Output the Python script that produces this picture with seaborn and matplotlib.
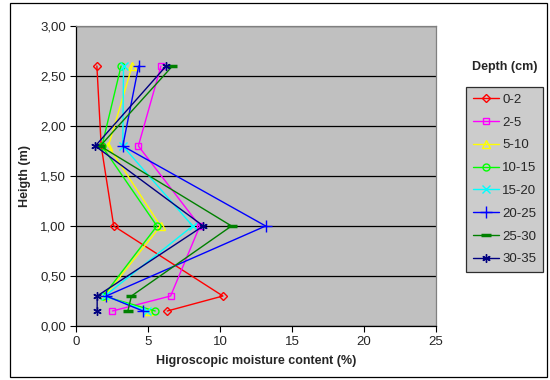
import matplotlib
matplotlib.use("Agg")
import matplotlib.pyplot as plt
import seaborn as sns
import pandas as pd
from matplotlib.ticker import FuncFormatter, MultipleLocator
from matplotlib.patches import Rectangle

heights = [2.6, 1.8, 1.0, 0.3, 0.15]
depths = ["0-2", "2-5", "5-10", "10-15", "15-20", "20-25", "25-30", "30-35"]
d0_2 = [1.45, 1.75, 2.62, 10.2, 6.34]
d2_5 = [5.9, 4.33, 8.6, 6.57, 2.53]
d5_10 = [3.9, 2.25, 5.87, 2.0, 5.1]
d10_15 = [3.13, 1.8, 5.62, 1.9, 5.5]
d15_20 = [3.3, 3.25, 8.1, 2.0, 4.93]
d20_25 = [4.35, 3.25, 13.17, 2.1, 4.65]
d25_30 = [6.7, 1.68, 10.8, 3.85, 3.6]
d30_35 = [6.26, 1.34, 8.84, 1.47, 1.47]
series = [d0_2, d2_5, d5_10, d10_15, d15_20, d20_25, d25_30, d30_35]

colors = ["#FF0000", "#FF00FF", "#FFFF00", "#00FF00", "#00FFFF", "#0000FF", "#008000", "#000080"]
markers = ["D", "s", "^", "o", "x", "+", "_", (6, 2, 0)]
sizes = [4.5, 5, 6, 5, 6, 8, 7, 6]
mews = [1.0, 1.0, 1.0, 1.0, 1.0, 1.0, 2.5, 1.0]
open_m = [True, True, True, True, False, False, False, False]

sns.set_style("white")
plt.rcParams["font.family"] = ["Liberation Sans", "DejaVu Sans"]
plt.rcParams["font.size"] = 9

fig = plt.figure(figsize=(5.5, 3.8), dpi=100)
ax = fig.add_axes([76 / 550, 54 / 380, 360 / 550, 300 / 380])
ax.set_facecolor("#C0C0C0")

for name, vals, c, m, s, mw, op in zip(depths, series, colors, markers, sizes, mews, open_m):
    df = pd.DataFrame({"moist": vals, "h": heights})
    kw = dict(markerfacecolor="none") if op else dict(markerfacecolor=c)
    sns.lineplot(data=df, x="moist", y="h", sort=False, estimator=None, ax=ax,
                 color=c, marker=m, markersize=s, markeredgecolor=c,
                 markeredgewidth=mw, linewidth=1.0, label=name, **kw)

ax.set_xlim(0, 25)
ax.set_ylim(0, 3)
ax.xaxis.set_major_locator(MultipleLocator(5))
ax.yaxis.set_major_locator(MultipleLocator(0.5))
ax.yaxis.set_major_formatter(FuncFormatter(lambda v, p: f"{v:.2f}".replace(".", ",")))
ax.yaxis.grid(True, color="black", linewidth=0.9)
ax.xaxis.grid(False)
ax.set_axisbelow(True)
ax.tick_params(axis="both", direction="out", length=4, width=0.8, color="black",
               labelsize=9.5, pad=3, left=True, bottom=True)
for sp in ["left", "bottom"]:
    ax.spines[sp].set_color("black")
    ax.spines[sp].set_linewidth(0.9)
for sp in ["top", "right"]:
    ax.spines[sp].set_color("#808080")
    ax.spines[sp].set_linewidth(0.9)

ax.set_xlabel("Higroscopic moisture content (%)", fontsize=9, fontweight="bold", labelpad=5)
ax.set_ylabel("Heigth (m)", fontsize=9, fontweight="bold", labelpad=7)

handles, labels = ax.get_legend_handles_labels()
ax.get_legend().remove()
leg = fig.legend(handles, labels, loc="upper left",
                 bbox_to_anchor=(466 / 550, 1 - 87 / 380), bbox_transform=fig.transFigure,
                 frameon=True, fancybox=False, facecolor="#C0C0C0", edgecolor="black",
                 fontsize=9.5, handlelength=2.0, handletextpad=0.25, labelspacing=0.8,
                 borderpad=0.5, borderaxespad=0)
leg.get_frame().set_linewidth(0.9)

fig.text(505 / 550, 1 - 67 / 380, "Depth (cm)", ha="center", va="center",
         fontsize=9, fontweight="bold")

fig.patches.append(Rectangle((10 / 550, 3 / 380), 537 / 550, 374 / 380,
                             transform=fig.transFigure, fill=False,
                             edgecolor="black", linewidth=0.9))

fig.savefig("out.png", dpi=100)
